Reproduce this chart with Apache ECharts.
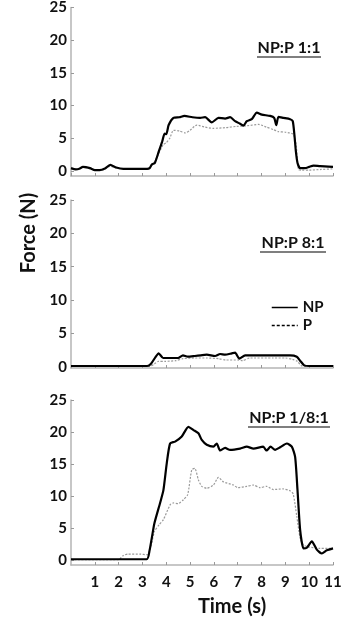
<!DOCTYPE html>
<html>
<head>
<meta charset="utf-8">
<script src="https://cdn.jsdelivr.net/npm/echarts@6/dist/echarts.min.js"></script>
<style>
html,body{margin:0;padding:0;background:#fff;}
#c{width:364px;height:622px;}
</style>
</head>
<body>
<div id="c"></div>
<script>
// ---- data (time s, force N) ----
const yTicks = [0, 5, 10, 15, 20, 25];
const panelTitles = ['NP:P 1:1', 'NP:P 8:1', 'NP:P 1/8:1'];

const np1 = [[0,0.4],[0.2,0.2],[0.35,0.3],[0.5,0.6],[0.8,0.4],[1.0,0.1],[1.2,0.1],[1.4,0.3],[1.65,0.9],[1.9,0.5],[2.2,0.3],[2.8,0.3],[3.2,0.3],[3.3,0.4],[3.4,1.0],[3.52,1.2],[3.69,3.0],[3.83,4.5],[3.93,5.7],[4.0,5.6],[4.1,7.0],[4.3,8.1],[4.55,8.2],[4.76,8.4],[5.1,8.2],[5.42,8.1],[5.63,8.2],[5.91,7.4],[6.19,8.1],[6.47,8.0],[6.68,8.2],[6.89,7.6],[7.1,7.2],[7.24,6.9],[7.38,7.6],[7.59,7.9],[7.8,8.9],[8.01,8.6],[8.36,8.4],[8.53,8.1],[8.62,7.0],[8.71,8.25],[8.92,8.1],[9.2,7.9],[9.31,7.6],[9.38,5.5],[9.44,3.0],[9.51,1.2],[9.62,0.4],[9.83,0.4],[10.0,0.6],[10.18,0.8],[10.46,0.7],[11.0,0.6]];
const p1 = [[0,0.3],[0.2,0.2],[0.5,0.5],[0.8,0.3],[1.0,0.1],[1.4,0.2],[1.65,0.7],[1.9,0.4],[2.2,0.3],[3.2,0.3],[3.4,0.8],[3.6,2.0],[3.87,4.0],[4.0,4.3],[4.15,5.0],[4.3,6.2],[4.55,6.1],[4.8,5.8],[5.0,6.2],[5.28,7.0],[5.6,6.7],[5.97,6.5],[6.5,6.6],[6.96,6.8],[7.4,6.9],[7.87,7.1],[8.2,6.7],[8.5,6.3],[8.7,6.0],[9.0,5.9],[9.33,5.6],[9.45,4.0],[9.55,0.2],[9.7,0.1],[10.0,0.1],[10.5,0.2],[11.0,0.3]];

const np2 = [[0,0.1],[3.2,0.1],[3.35,0.4],[3.54,1.4],[3.68,2.0],[3.87,1.3],[4.1,1.3],[4.5,1.3],[4.7,1.7],[4.9,1.5],[5.2,1.6],[5.45,1.7],[5.7,1.8],[6.05,1.6],[6.26,1.9],[6.47,1.8],[6.75,2.0],[6.89,2.1],[7.07,1.2],[7.31,1.7],[7.5,1.7],[8.5,1.7],[9.2,1.7],[9.48,1.5],[9.62,0.9],[9.79,0.2],[10.0,0.1],[11.0,0.1]];
const p2 = [[0,0.05],[3.3,0.05],[3.5,0.4],[3.67,0.8],[3.95,0.8],[4.4,0.9],[4.7,1.2],[5.2,1.3],[5.7,1.3],[6.2,1.2],[6.5,1.0],[7.0,1.0],[7.2,0.9],[7.5,1.3],[8.5,1.3],[9.0,1.3],[9.3,1.1],[9.5,0.8],[9.7,0.1],[11,0.05]];

const np3 = [[0,0.1],[3.18,0.1],[3.3,1.5],[3.4,3.6],[3.5,5.7],[3.74,8.9],[3.88,10.9],[4.02,15.1],[4.16,18.2],[4.37,18.5],[4.65,19.3],[4.93,20.8],[5.14,20.3],[5.35,19.8],[5.49,18.75],[5.7,18.0],[5.98,17.7],[6.12,18.2],[6.26,17.1],[6.47,17.5],[6.68,17.2],[7.1,17.4],[7.38,17.7],[7.66,17.4],[8.07,17.7],[8.21,17.1],[8.38,17.7],[8.57,17.2],[8.78,17.6],[9.06,18.2],[9.27,17.7],[9.41,16.1],[9.51,10.9],[9.62,4.7],[9.76,1.8],[9.9,1.9],[10.11,2.9],[10.32,1.6],[10.53,1.0],[10.74,1.5],[11,1.8]];
const p3 = [[0,0.05],[2.0,0.05],[2.2,0.7],[2.4,0.9],[2.9,0.9],[3.2,0.8],[3.35,2.0],[3.5,4.4],[3.7,5.5],[3.88,6.3],[4.16,8.6],[4.3,8.9],[4.5,8.8],[4.72,9.4],[4.9,10.2],[5.07,14.1],[5.2,14.3],[5.35,12.5],[5.49,11.5],[5.7,11.2],[5.98,11.7],[6.19,12.9],[6.4,12.2],[6.82,11.7],[7.0,11.3],[7.38,11.5],[7.66,11.7],[7.94,11.3],[8.21,11.5],[8.5,11.0],[8.9,11.1],[9.2,10.8],[9.33,10.3],[9.48,6.8],[9.62,3.4],[9.76,2.3],[10.0,2.0],[10.45,1.8],[11,1.8]];

const npSeries = [np1, np2, np3];
const pSeries = [p1, p2, p3];
const yMins = [-0.8, -0.2, -0.8];

// ---- layout ----
const FONT = 'Lato';
const grids = [
  {left: 71, width: 262, top: 6, height: 170},
  {left: 71, width: 262, top: 200, height: 168},
  {left: 71, width: 262, top: 400, height: 165}
];
const axisGray = '#b5b5b5';

const chart = echarts.init(document.getElementById('c'), null, {renderer: 'canvas'});

const xAxes = grids.map((g, i) => ({
  type: 'value', gridIndex: i, min: 0, max: 11, interval: 1,
  axisLine: {onZero: false, lineStyle: {color: axisGray, width: 1.5}},
  axisTick: {show: true, inside: true, length: 3, lineStyle: {color: '#999', width: 1}},
  axisLabel: {show: i === 2, showMinLabel: false, margin: 10, fontFamily: FONT, fontWeight: 'bold', fontSize: 15, color: '#111'},
  splitLine: {show: false}
}));
const yAxes = grids.map((g, i) => ({
  type: 'value', gridIndex: i, min: yMins[i], max: 25,
  axisLine: {show: true, lineStyle: {color: axisGray, width: 1.5}},
  axisTick: {show: true, inside: true, length: 3, customValues: yTicks, lineStyle: {color: '#999'}},
  axisLabel: {customValues: yTicks, margin: 4, fontFamily: FONT, fontWeight: 'bold', fontSize: 15, color: '#111'},
  splitLine: {show: false}
}));

const series = [];
for (let i = 0; i < 3; i++) {
  series.push({
    name: 'P', type: 'line', xAxisIndex: i, yAxisIndex: i, data: pSeries[i],
    symbol: 'none', smooth: 0.2, z: 2, color: '#000',
    lineStyle: {color: '#9a9a9a', width: 1.2, type: [2, 1.5]}
  });
  series.push({
    name: 'NP', type: 'line', xAxisIndex: i, yAxisIndex: i, data: npSeries[i],
    symbol: 'none', smooth: 0.2, z: 3, color: '#000',
    lineStyle: {color: '#000', width: 2.2}
  });
}

const titlePos = [
  {x: 289, y: 48, ul: [257, 321, 57]},
  {x: 293, y: 243, ul: [260, 326, 252]},
  {x: 289, y: 418, ul: [248, 330, 427]}
];
const graphics = [];
titlePos.forEach((t, i) => {
  graphics.push({type: 'text', position: [t.x, t.y], style: {
    text: panelTitles[i], x: 0, y: 0, align: 'center', verticalAlign: 'middle',
    font: 'bold 16px ' + FONT, fill: '#111'}});
  graphics.push({type: 'line', shape: {x1: t.ul[0], y1: t.ul[2], x2: t.ul[1], y2: t.ul[2]},
    style: {stroke: '#555', lineWidth: 1.6}});
});
graphics.push({type: 'text', rotation: Math.PI / 2, position: [29, 233], style: {
  text: 'Force (N)', x: 0, y: 0, align: 'center', verticalAlign: 'middle',
  font: 'bold 20px ' + FONT, fill: '#111'}});
graphics.push({type: 'text', position: [232, 607], style: {
  text: 'Time (s)', x: 0, y: 0, align: 'center', verticalAlign: 'middle',
  font: 'bold 20px ' + FONT, fill: '#111'}});

chart.setOption({
  animation: false,
  backgroundColor: '#fff',
  grid: grids,
  xAxis: xAxes,
  yAxis: yAxes,
  legend: {
    left: 266, top: 295, orient: 'vertical', itemWidth: 26, itemHeight: 10, itemGap: 3,
    selectedMode: false,
    textStyle: {fontFamily: FONT, fontWeight: 'bold', fontSize: 15, color: '#111'},
    data: [
      {name: 'NP', itemStyle: {opacity: 0}, lineStyle: {color: '#000', width: 1.5, type: 'solid'}},
      {name: 'P', itemStyle: {opacity: 0}, lineStyle: {color: '#000', width: 1.5, type: [3, 2]}}
    ]
  },
  series: series,
  graphic: graphics
});
</script>
</body>
</html>
